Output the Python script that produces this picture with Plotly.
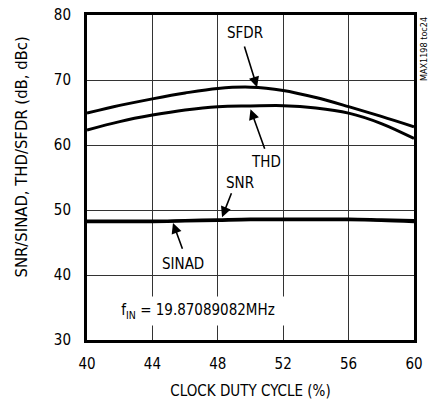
import plotly.graph_objects as go

duty = [40, 42, 44, 46, 48, 50, 52, 54, 56, 58, 60]
sfdr = [64.9, 66.1, 67.1, 68.0, 68.7, 68.9, 68.4, 67.3, 65.9, 64.4, 62.8]
thd = [62.3, 63.6, 64.6, 65.4, 65.9, 66.0, 66.05, 65.7, 64.9, 63.3, 61.0]
snr = [48.3, 48.3, 48.3, 48.4, 48.5, 48.6, 48.6, 48.6, 48.6, 48.5, 48.4]
sinad = [48.2, 48.2, 48.2, 48.3, 48.4, 48.5, 48.5, 48.5, 48.5, 48.4, 48.2]

x_ticks = [40, 44, 48, 52, 56, 60]
y_ticks = [30, 40, 50, 60, 70, 80]

FONT = "Liberation Sans Narrow, Arial Narrow, DejaVu Sans Condensed, Liberation Sans, Arial"

fig = go.Figure()
for name, vals in [("SFDR", sfdr), ("THD", thd), ("SNR", snr), ("SINAD", sinad)]:
    fig.add_trace(go.Scatter(x=duty, y=vals, mode="lines", name=name,
                             line=dict(color="black", width=3, shape="spline"),
                             showlegend=False))

# arrows (head at x,y; tail at ax,ay)
arrows = [
    (50.4, 68.9, 49.6, 75.4),
    (50.0, 65.5, 50.9, 59.2),
    (48.26, 48.9, 48.87, 52.8),
    (45.26, 48.0, 45.87, 43.8),
]
for hx, hy, tx, ty in arrows:
    fig.add_annotation(x=hx, y=hy, ax=tx, ay=ty, axref="x", ayref="y",
                       xref="x", yref="y", text="", showarrow=True,
                       arrowhead=2, arrowsize=1.3, arrowwidth=1.6, arrowcolor="black")

labels = [("SFDR", 49.66, 77.2), ("THD", 50.95, 57.4), ("SNR", 49.36, 54.1), ("SINAD", 45.87, 41.7)]
for t, x, y in labels:
    fig.add_annotation(x=x, y=y, xref="x", yref="y", text=t, showarrow=False,
                       font=dict(family=FONT, size=15, color="black"))

fig.add_annotation(x=46.8, y=34.5, xref="x", yref="y",
                   text="f<sub>IN</sub> = 19.87089082MHz", showarrow=False,
                   bgcolor="white", width=174, height=26,
                   font=dict(family=FONT, size=15, color="black"))

fig.add_annotation(x=1.0, y=1.0, xref="paper", yref="paper", xanchor="left", yanchor="top",
                   xshift=3, text="MAX1198 toc24", textangle=-90, showarrow=False,
                   font=dict(family=FONT, size=9, color="black"))

# y-axis title as annotation to match its position
fig.add_annotation(x=0, y=0.5615, xref="paper", yref="paper", xshift=-65,
                   xanchor="center", yanchor="middle", text="SNR/SINAD, THD/SFDR (dB, dBc)",
                   textangle=-90, showarrow=False,
                   font=dict(family=FONT, size=16.5, color="black"))

fig.update_xaxes(range=[40, 60], tickvals=x_ticks, ticks="", showgrid=True,
                 gridcolor="#333333", gridwidth=1, showline=True, linecolor="black",
                 linewidth=3, mirror=True, zeroline=False, ticklabelstandoff=8,
                 title=dict(text="CLOCK DUTY CYCLE (%)", font=dict(family=FONT, size=15, color="black"), standoff=15),
                 tickfont=dict(family=FONT, size=15, color="black"))
fig.update_yaxes(range=[30, 80], tickvals=y_ticks, ticks="", showgrid=True,
                 gridcolor="#333333", gridwidth=1, showline=True, linecolor="black",
                 linewidth=3, mirror=True, zeroline=False, ticklabelstandoff=10,
                 tickfont=dict(family=FONT, size=15, color="black"))

fig.update_layout(width=435, height=400, margin=dict(l=87, r=21, t=15, b=60, autoexpand=False),
                  plot_bgcolor="white", paper_bgcolor="white")

fig.write_html("out.html", config={"displayModeBar": False},
               post_script="document.body.style.margin='0';")
